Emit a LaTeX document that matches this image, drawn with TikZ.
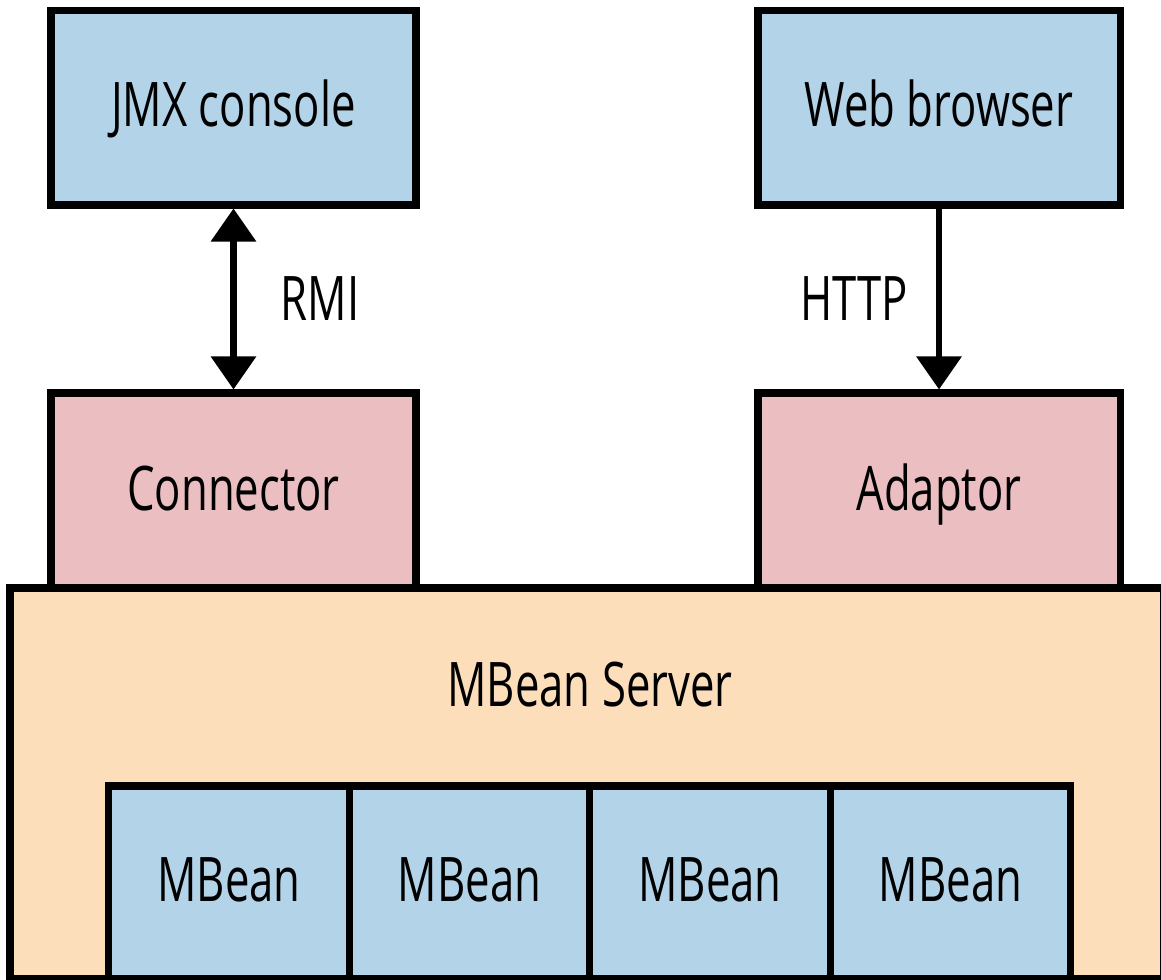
\documentclass[tikz,border=0pt]{standalone}
\usepackage{fontspec}
\setmainfont[FakeStretch=0.71]{Open Sans}
\usetikzlibrary{positioning, arrows.meta}

\begin{document}
\begin{tikzpicture}[
    box/.style={rectangle, draw=black, line width=4pt, inner sep=0pt},
    label_node/.style={font=\fontsize{35}{40}\selectfont, text height=25pt, text depth=0pt, inner sep=0pt},
    link/.style={line width=3.6pt, -{Triangle[width=0.88cm, length=0.66cm]}}
]

  % --- Color Definitions ---
  \definecolor{cclient}{RGB}{178, 211, 232}  % light blue
  \definecolor{cbridge}{RGB}{235, 190, 193}  % dusty pink
  \definecolor{cserver}{RGB}{252, 222, 187}  % peach

  \useasboundingbox (0, 0) rectangle (23.22, 19.58);

  % --- Clients ---
  \node[box, fill=cclient, minimum width=7.3cm, minimum height=3.88cm] (jmx) at (4.67, 17.42) {};
  \node[label_node] (jmxtext) at (4.67, 17.48) {JMX console};
  \node[box, fill=cclient, minimum width=7.24cm, minimum height=3.88cm] (web) at (18.78, 17.42) {};
  \node[label_node] (webtext) at (18.78, 17.48) {Web browser};

  % --- Connector / Adaptor ---
  \node[box, fill=cbridge, minimum width=7.3cm, minimum height=3.9cm] (conn) at (4.67, 9.77) {};
  \node[label_node] (conntext) at (4.67, 9.8) {Connector};
  \node[box, fill=cbridge, minimum width=7.24cm, minimum height=3.9cm] (adapt) at (18.78, 9.77) {};
  \node[label_node] (adapttext) at (18.78, 9.8) {Adaptor};

  % --- Links ---
  \draw[link, {Triangle[width=0.88cm, length=0.66cm]}-{Triangle[width=0.88cm, length=0.66cm]}] (jmx) -- (conn)
    node[label_node, midway, right=0.88cm] (rmi) {RMI};
  \draw[link] (web) -- (adapt)
    node[label_node, midway, left=0.56cm] (http) {HTTP};

  % --- MBean Server ---
  \node[box, fill=cserver, minimum width=23.06cm, minimum height=7.81cm] (server) at (11.73, 3.915) {};
  \node[label_node] (servertext) at (11.8, 5.88) {MBean Server};

  % --- MBeans ---
  \foreach \i in {0,...,3} {
    \node[box, fill=cclient, minimum width=4.81cm, minimum height=3.85cm] (mbean\i) at (4.58+4.81*\i, 1.935) {};
    \node[label_node] (mbeantext\i) at (4.58+4.81*\i, 1.98) {MBean};
  }

\end{tikzpicture}
\end{document}
